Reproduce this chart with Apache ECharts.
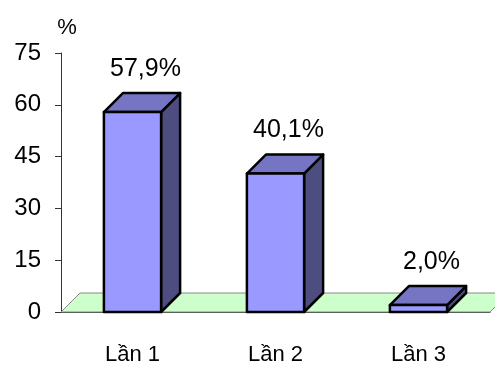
<!DOCTYPE html>
<html>
<head>
<meta charset="utf-8">
<script src="https://cdn.jsdelivr.net/npm/echarts@6/dist/echarts.min.js"></script>
<style>
  html, body { margin: 0; padding: 0; background: #fff; }
  #chart { width: 495px; height: 365px; }
</style>
</head>
<body>
<div id="chart"></div>
<script>
// Données du graphique
const categories = ['Lần 1', 'Lần 2', 'Lần 3'];
const values = [57.9, 40.1, 2.0];
const labels = ['57,9%', '40,1%', '2,0%'];
const yTicks = { min: 0, max: 75, interval: 15 };

// Profondeur de l'effet 3D (pixels)
const DEPTH = 19;
const FONT = '"Liberation Sans", Arial, sans-serif';

var chartDom = document.getElementById('chart');
var myChart = echarts.init(chartDom);

// Sol vert en perspective sous les barres
function renderFloor(params, api) {
    const cs = params.coordSys;
    const y0 = cs.y + cs.height;
    return {
        type: 'polygon',
        shape: {
            points: [
                [cs.x, y0],
                [cs.x + cs.width, y0],
                [cs.x + cs.width + DEPTH, y0 - DEPTH],
                [cs.x + DEPTH, y0 - DEPTH]
            ]
        },
        style: { fill: '#ccffcc', stroke: '#888888', lineWidth: 1 }
    };
}

// Barre 3D : face avant, dessus, côté et étiquette
function renderBar(params, api) {
    const idx = api.value(0);
    const val = api.value(1);
    const top = api.coord([idx, val]);
    const base = api.coord([idx, 0]);
    const band = api.size([1, 0])[0];
    const w = band * 0.4;
    const x1 = top[0] - w / 2;
    const x2 = top[0] + w / 2;
    const yt = top[1];
    const yb = base[1];
    const border = { stroke: '#000', lineWidth: 2.5, lineJoin: 'round' };
    return {
        type: 'group',
        children: [
            {
                type: 'polygon',
                shape: { points: [[x2, yb], [x2 + DEPTH, yb - DEPTH], [x2 + DEPTH, yt - DEPTH], [x2, yt]] },
                style: Object.assign({ fill: '#4d4d80' }, border)
            },
            {
                type: 'polygon',
                shape: { points: [[x1, yt], [x1 + DEPTH, yt - DEPTH], [x2 + DEPTH, yt - DEPTH], [x2, yt]] },
                style: Object.assign({ fill: '#7575c4' }, border)
            },
            {
                type: 'rect',
                shape: { x: x1, y: yt, width: w, height: yb - yt },
                style: Object.assign({ fill: '#9999ff' }, border)
            },
            {
                type: 'text',
                style: {
                    x: top[0] + 13,
                    y: yt - 43,
                    text: labels[idx],
                    fill: '#000',
                    font: '25px ' + FONT,
                    align: 'center',
                    verticalAlign: 'middle'
                }
            }
        ]
    };
}

var option = {
    animation: false,
    grid: { left: 61, right: 5, top: 53, bottom: 53, containLabel: false, outerBoundsMode: 'none' },
    xAxis: {
        type: 'category',
        data: categories,
        axisLine: { lineStyle: { color: '#333', width: 1 } },
        axisTick: { length: 6, lineStyle: { color: '#333' } },
        axisLabel: { margin: 32, fontSize: 22, color: '#000', fontFamily: FONT }
    },
    yAxis: {
        type: 'value',
        min: yTicks.min,
        max: yTicks.max,
        interval: yTicks.interval,
        name: '%',
        nameLocation: 'end',
        nameGap: 14,
        nameTextStyle: { fontSize: 22, color: '#000', fontFamily: FONT, padding: [0, 0, 0, 12] },
        axisLine: { show: true, lineStyle: { color: '#333', width: 1 } },
        axisTick: { show: true, length: 6, lineStyle: { color: '#333' } },
        splitLine: { show: false },
        axisLabel: { margin: 20, fontSize: 24, color: '#000', fontFamily: FONT }
    },
    series: [
        {
            type: 'custom',
            renderItem: renderFloor,
            data: [[0, 0]],
            z: 1,
            silent: true
        },
        {
            type: 'custom',
            renderItem: renderBar,
            data: values.map((v, i) => [i, v]),
            z: 3,
            clip: false
        }
    ]
};

myChart.setOption(option);
</script>
</body>
</html>
